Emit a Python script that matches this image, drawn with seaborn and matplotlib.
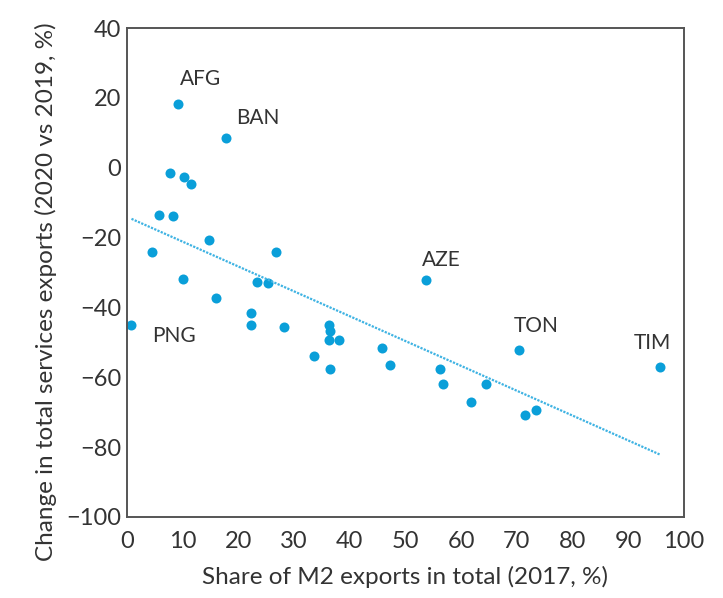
import numpy as np
import pandas as pd
import matplotlib
matplotlib.use('Agg')
import matplotlib.pyplot as plt
import seaborn as sns

# data
share_m2 = [9.2, 17.7, 7.7, 10.3, 11.4, 5.7, 8.2, 14.7, 4.4, 26.8,
            10.1, 16.0, 23.4, 25.3, 53.6, 0.8, 22.2, 22.2, 28.2, 36.2,
            36.5, 36.3, 38.0, 33.6, 36.5, 45.8, 47.3, 56.2, 56.7, 64.4,
            61.7, 70.3, 71.4, 73.5, 95.7]
change_exports = [18.2, 8.6, -1.5, -2.7, -4.7, -13.4, -13.9, -20.6, -24.2, -24.2,
                  -31.9, -37.3, -32.7, -33.0, -32.0, -45.0, -41.5, -45.0, -45.6, -45.0,
                  -46.8, -49.2, -49.2, -53.9, -57.6, -51.6, -56.4, -57.6, -61.8, -61.8,
                  -67.2, -52.2, -70.7, -69.5, -57.0]
labels = ['AFG', 'BAN', '', '', '', '', '', '', '', '',
          '', '', '', '', 'AZE', 'PNG', '', '', '', '',
          '', '', '', '', '', '', '', '', '', '',
          '', 'TON', '', '', 'TIM']

df = pd.DataFrame({'share': share_m2, 'change': change_exports, 'label': labels})

sns.set_style('white')
plt.rcParams['font.family'] = ['Lato', 'DejaVu Sans']

blue = '#0a9fd9'
txt = '#333333'

fig = plt.figure(figsize=(7.23, 5.98), dpi=100)
ax = fig.add_axes([0.1757, 0.1355, 0.7703, 0.8175])

sns.regplot(data=df, x='share', y='change', ax=ax, ci=None, color=blue,
            scatter_kws={'s': 52, 'linewidths': 0, 'alpha': 1},
            line_kws={'linestyle': (0, (1, 0.6)), 'linewidth': 1.6, 'color': '#3fb3e3'})

# country labels, offsets in pixels from each point
offsets = {'AFG': (2, 25), 'BAN': (11, 20), 'AZE': (-4, 20),
           'TON': (-5, 24), 'TIM': (-26, 24), 'PNG': (21, -11)}
for _, row in df[df.label != ''].iterrows():
    dx, dy = offsets[row.label]
    ax.annotate(row.label, (row.share, row.change), xytext=(dx, dy),
                textcoords='offset pixels', ha='left', va='center',
                fontsize=15, color=txt)

ax.set_xlim(0, 100)
ax.set_ylim(-100, 40)
ax.set_xticks(range(0, 101, 10))
ax.set_yticks(range(-100, 41, 20))
ax.set_yticklabels([str(v).replace('-', '\u2212') for v in range(-100, 41, 20)])
ax.tick_params(length=0, labelsize=17, colors=txt)
ax.tick_params(axis='x', pad=10)
ax.tick_params(axis='y', pad=4)
ax.set_xlabel('Share of M2 exports in total (2017, %)', fontsize=17.5, color=txt, labelpad=10)
ax.set_ylabel('Change in total services exports (2020 vs 2019, %)', fontsize=17.5, color=txt)
ax.yaxis.set_label_coords(-0.126, 0.46)
for s in ax.spines.values():
    s.set_visible(True)
    s.set_color('#555555')
    s.set_linewidth(1.4)

fig.savefig('out.png', dpi=100)
